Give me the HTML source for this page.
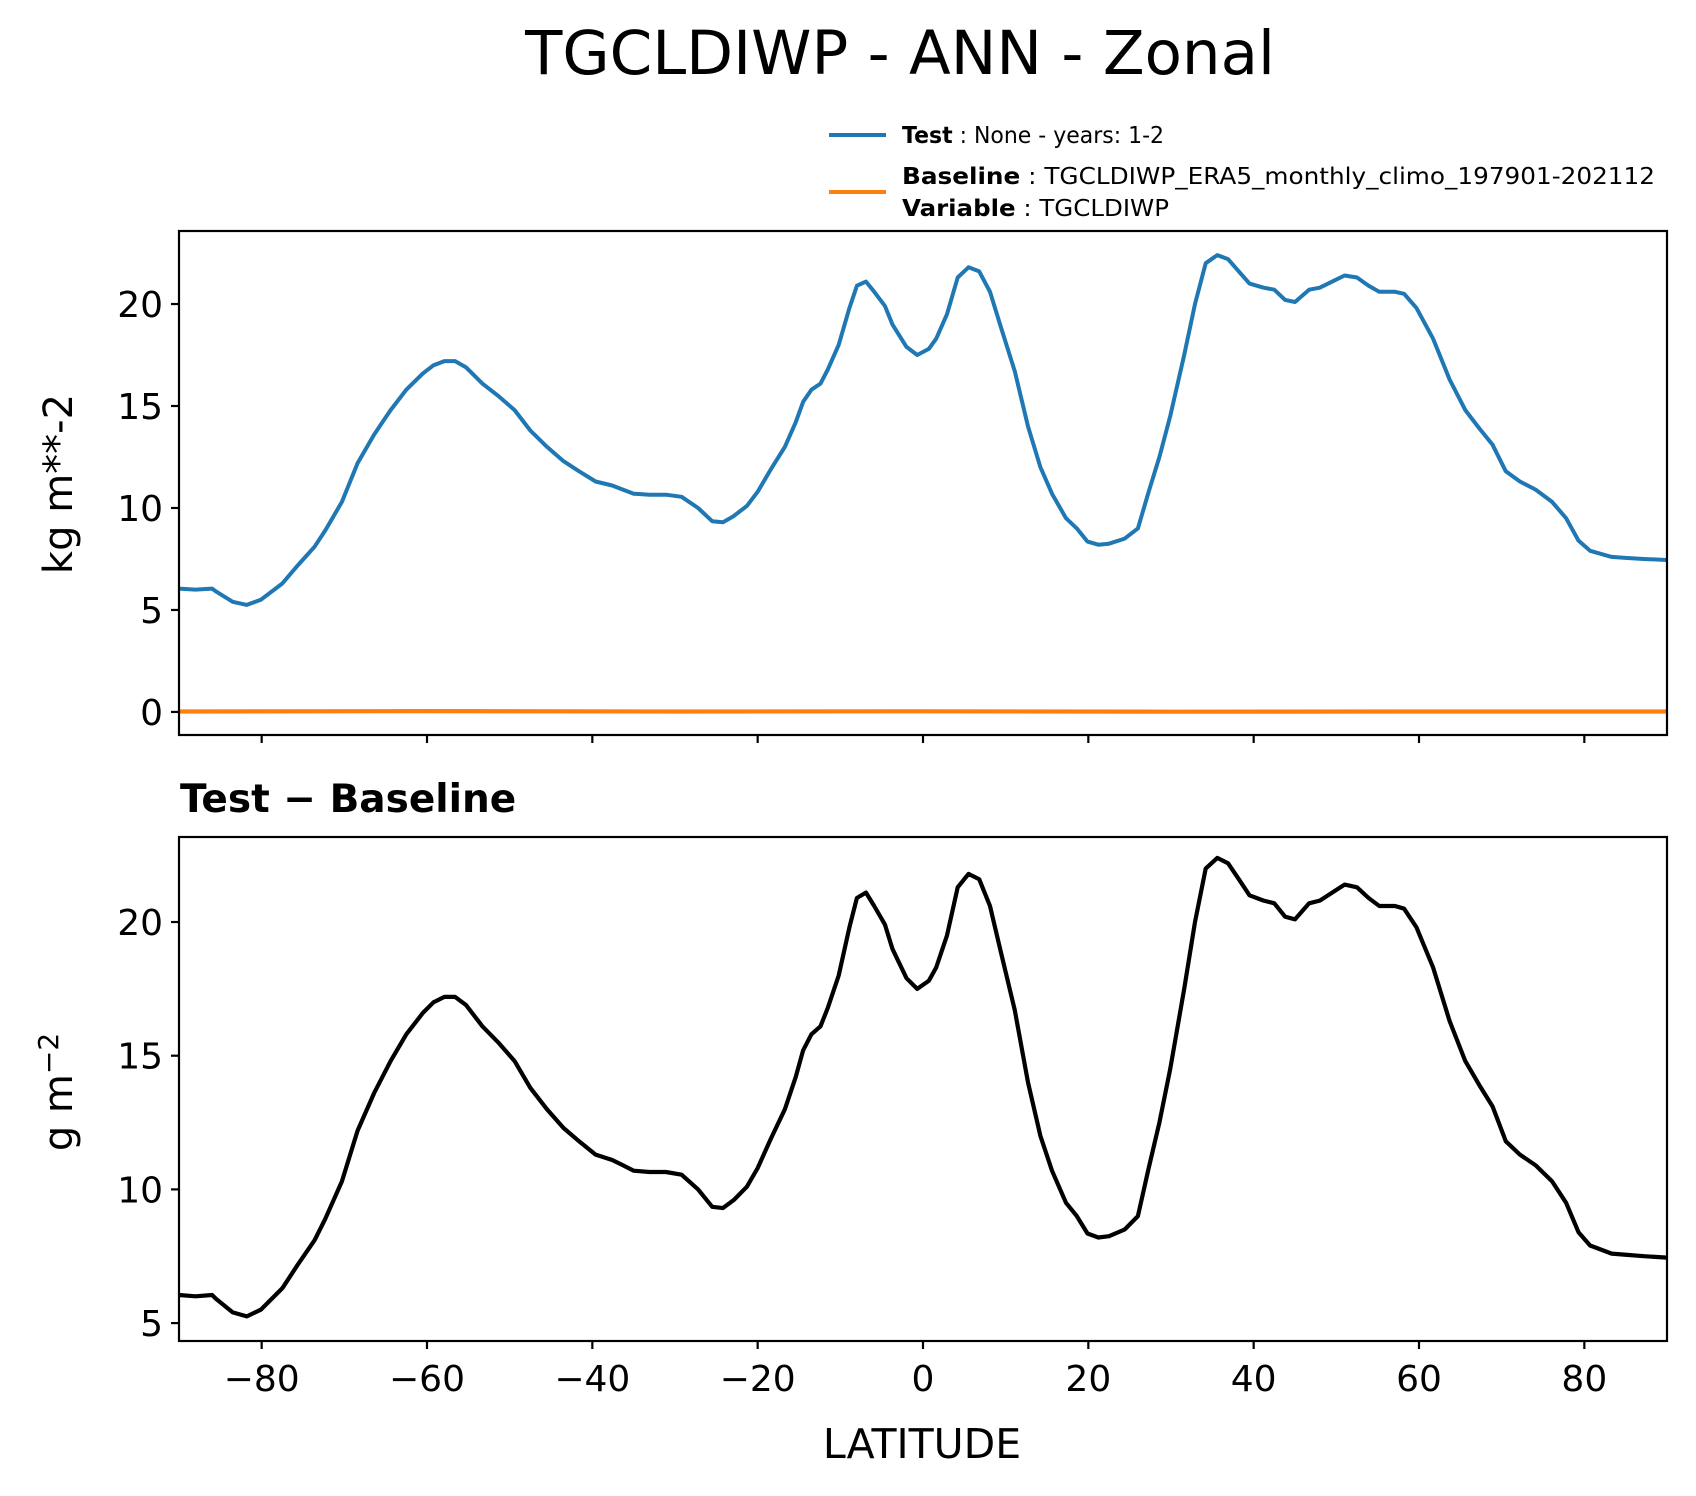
<!DOCTYPE html>
<html><head><meta charset="utf-8"><style>
html,body{margin:0;padding:0;background:#fff;}
svg{display:block;font-family:"DejaVu Sans","Liberation Sans",sans-serif;}
</style></head><body>
<svg id="chart" width="1696" height="1496" viewBox="0 0 1696 1496" xmlns="http://www.w3.org/2000/svg">
<rect width="1696" height="1496" fill="#fff"/>
<text x="900" y="74" font-size="61" text-anchor="middle">TGCLDIWP - ANN - Zonal</text>
<g>
<line x1="829" y1="135" x2="886" y2="135" stroke="#1f77b4" stroke-width="4"/>
<text x="902" y="143" font-size="23" textLength="262" lengthAdjust="spacingAndGlyphs"><tspan font-weight="bold">Test</tspan> : None - years: 1-2</text>
<line x1="829" y1="192" x2="886" y2="192" stroke="#ff7f0e" stroke-width="4"/>
<text x="902" y="184" font-size="23" textLength="753" lengthAdjust="spacingAndGlyphs"><tspan font-weight="bold">Baseline</tspan> : TGCLDIWP_ERA5_monthly_climo_197901-202112</text>
<text x="902" y="216" font-size="23" textLength="267" lengthAdjust="spacingAndGlyphs"><tspan font-weight="bold">Variable</tspan> : TGCLDIWP</text>
</g>
<g id="top"></g>
<g id="bot"></g>
<text x="180" y="812" font-size="39" font-weight="bold">Test − Baseline</text>
<text transform="translate(72,484) rotate(-90)" font-size="40" text-anchor="middle">kg m**-2</text>
<text transform="translate(72,1092) rotate(-90)" font-size="40" text-anchor="middle">g m<tspan dy="-14" font-size="28">−2</tspan></text>
<text x="922" y="1458" font-size="41" text-anchor="middle">LATITUDE</text>
</svg>
<script>
const lats = [-90,-88,-86,-85.5,-83.5,-81.8,-80.1,-77.5,-75.6,-73.6,-72.3,-70.3,-68.4,-66.4,-64.4,-62.5,-60.5,-59.2,-57.9,-56.6,-55.3,-53.3,-51.4,-49.4,-47.5,-45.5,-43.5,-41.6,-39.6,-37.6,-36.3,-35.0,-33.1,-31.1,-29.2,-27.2,-25.5,-24.2,-22.9,-21.3,-20.0,-18.4,-16.7,-15.4,-14.5,-13.5,-12.4,-11.5,-10.2,-8.9,-8.0,-6.9,-5.9,-4.6,-3.7,-2.0,-0.7,0.7,1.6,2.9,4.2,5.5,6.8,8.1,9.4,11.1,12.7,14.2,15.6,17.3,18.6,19.9,21.2,22.5,24.4,26.0,27.3,28.6,29.9,31.6,32.9,34.2,35.6,36.9,38.2,39.5,41.2,42.5,43.8,45.0,46.7,48.0,49.5,51.0,52.5,53.9,55.2,57.1,58.2,59.7,61.7,63.7,65.6,67.3,68.9,70.5,72.2,74.1,76.1,77.8,79.3,80.7,83.3,85.2,87.2,90];
const testVals = [6.05,6.0,6.05,5.9,5.4,5.25,5.5,6.3,7.2,8.1,8.9,10.3,12.2,13.6,14.8,15.8,16.6,17.0,17.2,17.2,16.9,16.1,15.5,14.8,13.8,13.0,12.3,11.8,11.3,11.1,10.9,10.7,10.65,10.65,10.55,10.0,9.35,9.3,9.6,10.1,10.8,11.9,13.0,14.2,15.2,15.8,16.1,16.8,18.0,19.8,20.9,21.1,20.6,19.9,19.0,17.9,17.5,17.8,18.3,19.5,21.3,21.8,21.6,20.6,18.9,16.7,14.0,12.0,10.7,9.5,9.0,8.35,8.2,8.25,8.5,9.0,10.8,12.5,14.5,17.5,20.0,22.0,22.4,22.2,21.6,21.0,20.8,20.7,20.2,20.1,20.7,20.8,21.1,21.4,21.3,20.9,20.6,20.6,20.5,19.8,18.3,16.3,14.8,13.9,13.1,11.8,11.3,10.9,10.3,9.5,8.4,7.9,7.6,7.55,7.5,7.45];
const baseLats = [-90,-60,-30,0,30,60,90];
const baseVals = [0.02,0.04,0.02,0.03,0.01,0.02,0.02];
const diffVals = testVals.slice();
const xTicks = [-80,-60,-40,-20,0,20,40,60,80];
const xTickLabels = ['−80','−60','−40','−20','0','20','40','60','80'];
const topYTicks = [0,5,10,15,20];
const botYTicks = [5,10,15,20];

const NS='http://www.w3.org/2000/svg';
const L=179,R=1667;
function xs(v){return L+(v+90)/180*(R-L);}
function mk(tag,attrs,parent){const e=document.createElementNS(NS,tag);for(const k in attrs)e.setAttribute(k,attrs[k]);parent.appendChild(e);return e;}
function panel(g,T,B,ymin,ymax,yTicks,series,showXLabels,prefix){
  const ys=v=>B-(v-ymin)/(ymax-ymin)*(B-T);
  series.forEach(s=>{
    let d='';s.x.forEach((x,i)=>{d+=(i?'L':'M')+xs(x).toFixed(1)+','+ys(s.y[i]).toFixed(1);});
    const p=mk('path',{d:d,fill:'none',stroke:s.color,'stroke-width':s.w,'stroke-linejoin':'round'},g);
    
    
  });
  const fr=mk('rect',{x:L,y:T,width:R-L,height:B-T,fill:'none',stroke:'#000','stroke-width':2.2},g);
  
  
  yTicks.forEach(v=>{
    const y=ys(v);
    mk('line',{x1:L-8,x2:L,y1:y,y2:y,stroke:'#000','stroke-width':2.2},g);
    const t=mk('text',{x:L-16,y:y+13,'font-size':36,'text-anchor':'end'},g);
    t.textContent=v;
    
    
  });
  xTicks.forEach((v,i)=>{
    const x=xs(v);
    mk('line',{x1:x,x2:x,y1:B,y2:B+8,stroke:'#000','stroke-width':2.2},g);
    if(showXLabels){
      const t=mk('text',{x:x,y:B+50,'font-size':36,'text-anchor':'middle'},g);
      t.textContent=xTickLabels[i];
      
      
    }
  });
}
panel(document.getElementById('top'),231,735,-1.13,23.58,topYTicks,[
  {x:baseLats,y:baseVals,color:'#ff7f0e',w:4.2,name:'baseline-line'},
  {x:lats,y:testVals,color:'#1f77b4',w:4,name:'test-line'}],false,'top');
panel(document.getElementById('bot'),837,1341,4.33,23.18,botYTicks,[
  {x:lats,y:diffVals,color:'#000',w:4.2,name:'difference-line'}],true,'bottom');
</script>
</body></html>
